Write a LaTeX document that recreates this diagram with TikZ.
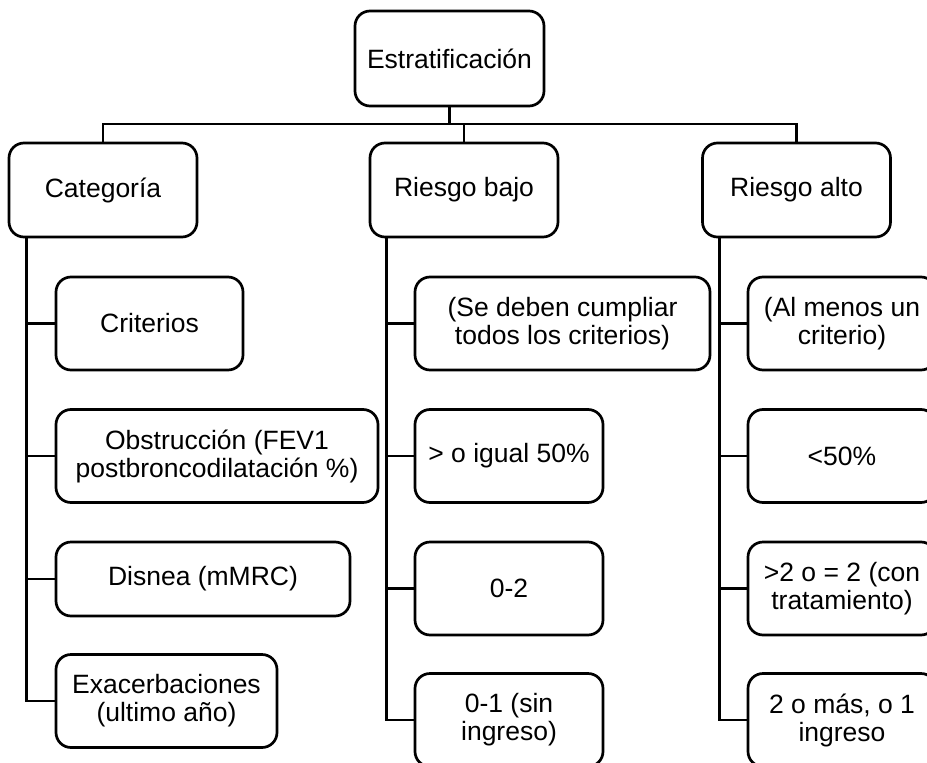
\documentclass[tikz,border=0pt]{standalone}
\usepackage{fontspec}
\setmainfont{Liberation Sans}
\begin{document}
\begin{tikzpicture}[x=1pt,y=-1pt,
  box/.style={draw, line width=2.7pt, rounded corners=15pt, align=center,
    inner sep=0pt, font=\fontsize{26.5}{28}\selectfont},
  head/.style={box, minimum width=188pt, minimum height=94pt},
  item/.style={box, minimum height=93pt},
  link/.style={line width=2.7pt, line join=miter}]
\useasboundingbox (0,0) rectangle (927,763);

% top level
\node[box, minimum width=189pt, minimum height=95pt] (root) at (449.5,58.5) {Estratificación};

% second level
\node[head] (cat)  at (103,190)   {Categoría};
\node[head] (bajo) at (464,190)   {Riesgo bajo};
\node[head] (alto) at (796.5,190) {Riesgo alto};

% Categoría column
\node[item, minimum width=187pt] (crit) at (149.5,323.5) {Criterios};
\node[item, minimum width=322pt] (obst) at (217,456) {Obstrucción (FEV1\\postbroncodilatación \%)};
\node[box, minimum width=294pt, minimum height=74pt] (disn) at (203,579) {Disnea (mMRC)};
\node[item, minimum width=221pt] (exac) at (166.5,701) {Exacerbaciones\\(ultimo año)};

% Riesgo bajo column
\node[item, minimum width=295pt] (bajoA) at (562.5,323.5) {(Se deben cumpliar\\todos los criterios)};
\node[item, minimum width=188pt] (bajoB) at (509,456)   {> o igual 50\%};
\node[item, minimum width=188pt] (bajoC) at (509,588.5) {0-2};
\node[item, minimum width=188pt] (bajoD) at (509,720)   {0-1 (sin\\ingreso)};

% Riesgo alto column
\node[item, minimum width=188pt] (altoA) at (842,323.5) {(Al menos un\\criterio)};
\node[item, minimum width=188pt] (altoB) at (842,456)   {<50\%};
\node[item, minimum width=188pt] (altoC) at (842,588.5) {>2 o = 2 (con\\tratamiento)};
\node[item, minimum width=188pt] (altoD) at (842,720)   {2 o más, o 1\\ingreso};

% bus below the root
\coordinate (bus) at (0,124);
\draw[link] (root.south) -- (root.south |- bus);
\draw[link] (cat.north) -- (cat.north |- bus) -- (alto.north |- bus) -- (alto.north);
\draw[link] (bajo.north) -- (bajo.north |- bus);

% column spines
\path (cat.south west)  ++(19,0) coordinate (catS);
\path (bajo.south west) ++(18,0) coordinate (bajoS);
\path (alto.south west) ++(18,0) coordinate (altoS);

\foreach \c in {crit,obst,disn,exac} \draw[link] (catS) |- (\c.west);
\foreach \c in {bajoA,bajoB,bajoC,bajoD} \draw[link] (bajoS) |- (\c.west);
\foreach \c in {altoA,altoB,altoC,altoD} \draw[link] (altoS) |- (\c.west);
\end{tikzpicture}
\end{document}
